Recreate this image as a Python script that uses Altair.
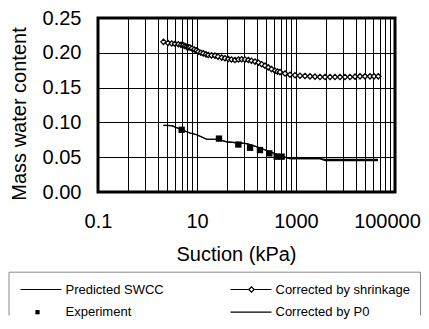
import altair as alt
import pandas as pd

# ---- data ----
suction_shrink = [2.1, 2.6, 3.1, 3.6, 4.2, 4.75, 5.3, 5.7, 6.2, 6.7, 7.2, 7.9, 8.8, 9.7, 10.6,
                  12.0, 13.4, 15.2, 16.9, 19.6, 23.1, 26.6, 31.6, 36.8, 42.9, 49.8, 58.6, 68.9,
                  80.0, 93.3, 109, 126, 149, 175, 203, 236, 276, 320, 377, 423, 475, 600, 756,
                  954, 1204, 1520, 1918, 2420, 3053, 3853, 4863, 6137, 7745, 9770, 12330, 15560,
                  19640, 24780, 31270, 37660, 45990]
water_shrink = [0.2157, 0.2140, 0.2133, 0.2129, 0.2123, 0.2114, 0.2109, 0.2097, 0.2086, 0.2079,
                0.2076, 0.2062, 0.2048, 0.2034, 0.2016, 0.2001, 0.1992, 0.1977, 0.1968, 0.1963,
                0.1959, 0.1945, 0.1931, 0.1921, 0.1911, 0.1903, 0.1897, 0.1903, 0.1907, 0.1903,
                0.1897, 0.1886, 0.1874, 0.1857, 0.1836, 0.1815, 0.1790, 0.1766, 0.1742, 0.1730,
                0.1723, 0.1702, 0.1685, 0.1677, 0.1671, 0.1667, 0.1662, 0.1657, 0.1653, 0.1653,
                0.1653, 0.1653, 0.1653, 0.1653, 0.1653, 0.1657, 0.1662, 0.1662, 0.1662, 0.1662,
                0.1662]

suction_pred = [2.1, 3.1, 4.9, 7.2, 9.9, 15.7, 26.5, 39.8, 101, 161, 298, 546, 757, 3055, 3855, 45400]
water_pred = [0.0956, 0.0954, 0.0894, 0.0847, 0.0823, 0.0758, 0.0758, 0.0720, 0.0696, 0.0650,
              0.0579, 0.0508, 0.0480, 0.0480, 0.0452, 0.0452]

suction_p0 = [2.1, 3.1, 4.9, 7.2, 9.9, 15.7, 26.5, 39.8, 101, 161, 298, 546, 757, 3055, 3855, 45400]
water_p0 = [0.0956, 0.0954, 0.0894, 0.0847, 0.0823, 0.0758, 0.0758, 0.0720, 0.0696, 0.0650,
            0.0579, 0.0508, 0.0480, 0.0480, 0.0468, 0.0468]

suction_exp = [4.9, 27.8, 68.3, 118, 187, 289, 407, 514]
water_exp = [0.0894, 0.0767, 0.0682, 0.0636, 0.0603, 0.0555, 0.0508, 0.0508]

# legend entries (2 columns x 2 rows)
legend_labels = ["Predicted SWCC", "Corrected by shrinkage", "Experiment", "Corrected by P0"]
legend_col = [0, 1, 0, 1]
legend_row = [0, 0, 1, 1]
legend_line = [True, True, False, True]
legend_marker = ["none", "diamond", "square", "none"]

x_major = [0.1, 10, 1000, 100000]
y_ticks = [0, 0.05, 0.10, 0.15, 0.20, 0.25]

# ---- axis grid positions (Excel-style minor grid of a 2-decade log axis) ----
x_grid = sorted(set(round(0.1 * k * k * 100 ** n, 6) for n in range(3) for k in range(1, 11)))

FONT = "Liberation Sans"

lines_df = pd.concat([
    pd.DataFrame({"suction": suction_pred, "w": water_pred, "series": "Predicted SWCC"}),
    pd.DataFrame({"suction": suction_p0, "w": water_p0, "series": "Corrected by P0"}),
])
shrink_df = pd.DataFrame({"suction": suction_shrink, "w": water_shrink})
exp_df = pd.DataFrame({"suction": suction_exp, "w": water_exp})
leg_df = pd.DataFrame({"label": legend_labels, "col": legend_col, "row": legend_row,
                       "line": legend_line, "marker": legend_marker})

major_test = " || ".join(f"datum.value == {v}" for v in x_major)

x_scale = alt.Scale(type="log", domain=[0.1, 100000], nice=False)
y_scale = alt.Scale(domain=[0, 0.25], nice=False)

x_enc = alt.X(
    "suction:Q", scale=x_scale,
    axis=alt.Axis(
        values=x_grid, tickCount=200,
        labelExpr=f"({major_test}) ? format(datum.value, '~g') : ''",
        labelOffset=alt.ExprRef(expr=f"datum.value == {x_major[-1]} ? -8 : 0"),
        grid=True, gridColor="black", gridWidth=1, gridOpacity=1,
        ticks=False, domain=False,
        labelFont=FONT, labelFontSize=20, labelColor="black",
        labelPadding=19.5, labelFlush=False, labelOverlap=False,
        title="Suction (kPa)", titleFont=FONT, titleFontSize=20, titleFontWeight="normal",
        titleColor="black", titleX=138, titleY=52, titleAlign="center", titleBaseline="top",
    ),
)
y_enc = alt.Y(
    "w:Q", scale=y_scale,
    axis=alt.Axis(
        values=y_ticks, tickCount=50, format=".2f",
        grid=True, gridColor="black", gridWidth=1, gridOpacity=1,
        ticks=False, domain=False,
        labelFont=FONT, labelFontSize=20, labelColor="black", labelPadding=17,
        labelOverlap=False, labelFlush=False,
        title="Mass water content", titleFont=FONT, titleFontSize=20, titleFontWeight="normal",
        titleColor="black", titleX=-79, titleY=95.5, titleAlign="center", titleBaseline="middle",
    ),
)

lines = alt.Chart(lines_df).mark_line(color="black", strokeWidth=1.2).encode(
    x=x_enc, y=y_enc, detail="series:N"
)
shrink_line = alt.Chart(shrink_df).mark_line(color="black", strokeWidth=1.2).encode(
    x="suction:Q", y="w:Q"
)
shrink_pts = alt.Chart(shrink_df).mark_point(
    shape="diamond", size=28, filled=False, fill="white", stroke="black", strokeWidth=1.3, opacity=1
).encode(x="suction:Q", y="w:Q")
exp_pts = alt.Chart(exp_df).mark_point(
    shape="square", size=40, filled=True, color="black", opacity=1
).encode(x="suction:Q", y="w:Q")

main = alt.layer(lines, shrink_line, shrink_pts, exp_pts)

# ---- legend (own scales, placed below the plot area; box cut by the page bottom) ----
leg_xs = alt.Scale(domain=[0, 1], range=[-77.5, 132.5])
leg_ys = alt.Scale(domain=[0, 1], range=[271.5, 294.2])
leg_x = alt.X("col:Q", scale=leg_xs, axis=None)
leg_y = alt.Y("row:Q", scale=leg_ys, axis=None)
box_x0 = alt.X("min(col):Q", scale=leg_xs, axis=None)
box_x1 = alt.X("max(col):Q", scale=leg_xs, axis=None)
box_y0 = alt.Y("min(row):Q", scale=leg_ys, axis=None)

BOX = dict(stroke="#888888", strokeWidth=1)
box_top = alt.Chart(leg_df).mark_rule(
    xOffset=-11.5, x2Offset=190, yOffset=-17.3, **BOX
).encode(x=box_x0, x2="max(col):Q", y=box_y0)
box_left = alt.Chart(leg_df).mark_rule(
    xOffset=-11.5, yOffset=-17.3, y2Offset=3.3, **BOX
).encode(x=box_x0, y=box_y0, y2="max(row):Q")
box_right = alt.Chart(leg_df).mark_rule(
    xOffset=190, yOffset=-17.3, y2Offset=3.3, **BOX
).encode(x=box_x1, y=box_y0, y2="max(row):Q")

leg_rules = alt.Chart(leg_df).transform_filter("datum.line").mark_rule(
    color="black", strokeWidth=1.2, x2Offset=41
).encode(x=leg_x, x2="col:Q", y=leg_y)
leg_diamond = alt.Chart(leg_df).transform_filter("datum.marker == 'diamond'").mark_point(
    shape="diamond", size=28, filled=False, fill="white", stroke="black", strokeWidth=1.3,
    opacity=1, xOffset=21
).encode(x=leg_x, y=leg_y)
leg_square = alt.Chart(leg_df).transform_filter("datum.marker == 'square'").mark_point(
    shape="square", size=18, filled=True, color="black", opacity=1, xOffset=17
).encode(x=leg_x, y=leg_y)
leg_text = alt.Chart(leg_df).mark_text(
    align="left", baseline="middle", dx=45, font=FONT, fontSize=13, color="black"
).encode(x=leg_x, y=leg_y, text="label:N")

legend_part = alt.layer(box_top, box_left, box_right, leg_rules, leg_diamond, leg_square, leg_text)

chart = alt.layer(main, legend_part).resolve_scale(
    x="independent", y="independent"
).properties(
    width=297, height=174, padding=0,
).configure_view(stroke="black", strokeWidth=3)

chart.save("out.html", embed_options={"renderer": "svg", "actions": False})
